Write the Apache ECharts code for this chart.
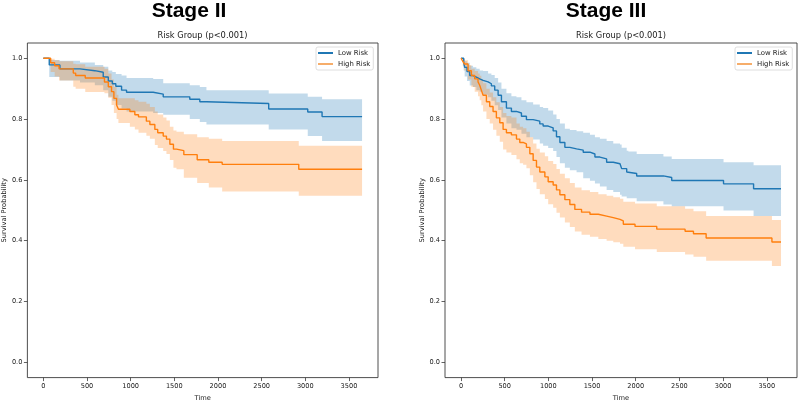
<!DOCTYPE html>
<html>
<head>
<meta charset="utf-8">
<script src="https://cdn.jsdelivr.net/npm/echarts@6/dist/echarts.min.js"></script>
<style>
html,body{margin:0;padding:0;background:#fff;}
#chart{width:798px;height:407px;}
</style>
</head>
<body>
<div id="chart"></div>
<script>
// ---------- tick labels ----------
const xTicks = [0, 500, 1000, 1500, 2000, 2500, 3000, 3500];
const yTicks = [0, 0.2, 0.4, 0.6, 0.8, 1.0];
const panelTitles = ['Stage II', 'Stage III'];
const subTitle = 'Risk Group (p<0.001)';
const groupNames = ['Low Risk', 'High Risk'];

// ---------- Stage II : Low Risk ----------
const s2LowTime  = [0, 68, 190, 420, 590, 686, 744, 790, 830, 896, 953, 1258, 1373, 1677, 1792, 1868, 2581, 3028, 3192, 3650];
const s2LowSurv  = [1, 0.978, 0.965, 0.959, 0.954, 0.938, 0.925, 0.916, 0.908, 0.895, 0.888, 0.882, 0.873, 0.865, 0.857, 0.851, 0.833, 0.823, 0.808, 0.808];
const s2LowLower = [1, 0.938, 0.927, 0.92, 0.911, 0.895, 0.873, 0.86, 0.846, 0.835, 0.825, 0.82, 0.814, 0.80, 0.79, 0.782, 0.766, 0.744, 0.728, 0.728];
const s2LowUpper = [1, 0.994, 0.992, 0.986, 0.978, 0.972, 0.96, 0.955, 0.948, 0.943, 0.935, 0.932, 0.918, 0.911, 0.905, 0.895, 0.884, 0.873, 0.865, 0.865];

// ---------- Stage II : High Risk ----------
const s2HighTime  = [0, 84, 130, 180, 343, 370, 480, 700, 744, 781, 808, 839, 860, 991, 1048, 1090, 1180, 1220, 1277, 1310, 1373, 1410, 1449, 1490, 1525, 1609, 1762, 1895, 2048, 2925, 3650];
const s2HighSurv  = [1, 0.985, 0.975, 0.965, 0.951, 0.943, 0.935, 0.922, 0.906, 0.890, 0.868, 0.846, 0.832, 0.825, 0.814, 0.807, 0.793, 0.782, 0.766, 0.755, 0.744, 0.734, 0.717, 0.701, 0.696, 0.683, 0.666, 0.658, 0.651, 0.635, 0.635];
const s2HighLower = [1, 0.955, 0.94, 0.927, 0.906, 0.90, 0.889, 0.885, 0.87, 0.846, 0.82, 0.80, 0.787, 0.775, 0.766, 0.755, 0.745, 0.735, 0.715, 0.705, 0.695, 0.685, 0.665, 0.64, 0.635, 0.607, 0.59, 0.575, 0.562, 0.548, 0.548];
const s2HighUpper = [1, 0.998, 0.993, 0.99, 0.982, 0.98, 0.972, 0.965, 0.95, 0.93, 0.905, 0.88, 0.868, 0.868, 0.862, 0.857, 0.85, 0.84, 0.825, 0.815, 0.805, 0.795, 0.775, 0.762, 0.758, 0.75, 0.74, 0.735, 0.728, 0.712, 0.712];

// ---------- Stage III : Low Risk ----------
const s3LowTime  = [0, 31, 42, 69, 100, 138, 176, 214, 253, 310, 348, 386, 425, 463, 520, 577, 635, 692, 749, 826, 902, 940, 998, 1055, 1093, 1132, 1189, 1246, 1323, 1399, 1476, 1533, 1590, 1667, 1743, 1820, 1839, 1897, 1916, 2011, 2317, 2412, 3005, 3349, 3663];
const s3LowSurv  = [1, 0.986, 0.970, 0.956, 0.943, 0.938, 0.932, 0.927, 0.922, 0.916, 0.909, 0.895, 0.878, 0.857, 0.836, 0.825, 0.820, 0.809, 0.798, 0.793, 0.784, 0.777, 0.771, 0.761, 0.742, 0.723, 0.707, 0.702, 0.698, 0.691, 0.685, 0.675, 0.669, 0.658, 0.653, 0.648, 0.637, 0.626, 0.621, 0.613, 0.608, 0.598, 0.587, 0.571, 0.571];
const s3LowLower = [1, 0.96, 0.94, 0.925, 0.91, 0.905, 0.895, 0.89, 0.88, 0.872, 0.86, 0.845, 0.83, 0.805, 0.785, 0.77, 0.765, 0.752, 0.74, 0.733, 0.72, 0.712, 0.705, 0.695, 0.675, 0.655, 0.64, 0.632, 0.625, 0.605, 0.597, 0.588, 0.578, 0.567, 0.56, 0.551, 0.545, 0.54, 0.54, 0.53, 0.519, 0.513, 0.499, 0.481, 0.481];
const s3LowUpper = [1, 0.997, 0.99, 0.985, 0.975, 0.97, 0.965, 0.96, 0.958, 0.95, 0.945, 0.935, 0.92, 0.90, 0.885, 0.875, 0.872, 0.862, 0.855, 0.848, 0.84, 0.836, 0.828, 0.815, 0.80, 0.785, 0.768, 0.764, 0.76, 0.755, 0.748, 0.74, 0.735, 0.728, 0.72, 0.716, 0.706, 0.696, 0.693, 0.685, 0.677, 0.669, 0.658, 0.648, 0.648];

// ---------- Stage III : High Risk ----------
const s3HighTime  = [0, 20, 42, 81, 119, 157, 195, 214, 233, 253, 291, 329, 367, 405, 444, 482, 520, 577, 635, 673, 711, 749, 788, 826, 864, 902, 960, 998, 1055, 1093, 1132, 1189, 1246, 1303, 1380, 1476, 1572, 1667, 1743, 1820, 1858, 1992, 2241, 2565, 2661, 2806, 3559, 3663];
const s3HighSurv  = [1, 0.99, 0.981, 0.959, 0.943, 0.932, 0.922, 0.911, 0.895, 0.878, 0.857, 0.841, 0.825, 0.804, 0.788, 0.766, 0.755, 0.748, 0.734, 0.723, 0.718, 0.707, 0.686, 0.664, 0.642, 0.626, 0.610, 0.594, 0.583, 0.567, 0.551, 0.535, 0.519, 0.503, 0.494, 0.487, 0.481, 0.476, 0.470, 0.465, 0.454, 0.447, 0.438, 0.431, 0.423, 0.409, 0.396, 0.396];
const s3HighLower = [1, 0.975, 0.96, 0.93, 0.905, 0.89, 0.875, 0.862, 0.845, 0.825, 0.80, 0.785, 0.765, 0.745, 0.725, 0.70, 0.69, 0.682, 0.668, 0.655, 0.65, 0.638, 0.615, 0.592, 0.57, 0.553, 0.537, 0.52, 0.508, 0.492, 0.476, 0.46, 0.445, 0.43, 0.42, 0.413, 0.406, 0.40, 0.395, 0.39, 0.38, 0.372, 0.363, 0.355, 0.347, 0.334, 0.317, 0.317];
const s3HighUpper = [1, 0.998, 0.993, 0.978, 0.965, 0.958, 0.95, 0.942, 0.93, 0.918, 0.90, 0.887, 0.872, 0.855, 0.84, 0.82, 0.81, 0.805, 0.785, 0.775, 0.77, 0.758, 0.74, 0.72, 0.702, 0.69, 0.678, 0.662, 0.652, 0.636, 0.62, 0.605, 0.59, 0.575, 0.566, 0.56, 0.553, 0.548, 0.543, 0.538, 0.528, 0.522, 0.513, 0.505, 0.497, 0.481, 0.468, 0.468];

// ---------- styling ----------
const BLUE = '#1f77b4';
const ORANGE = '#ff7f0e';
const TXT = '#1a1a1a';
const FRAME = '#3a3a3a';
const FONT = '"DejaVu Sans", sans-serif';

const grids = [
  { left: 27, top: 43, width: 351, height: 341 },
  { left: 445, top: 43, width: 352, height: 341 }
];
const xRanges = [[-182.5, 3832.5], [-183, 3846]];

function bandSeries(idx, color, t, lo, hi) {
  return {
    type: 'custom',
    xAxisIndex: idx, yAxisIndex: idx,
    silent: true, z: 1,
    data: t.map((v, i) => [v, lo[i], hi[i]]),
    renderItem: function (params, api) {
      if (params.dataIndex !== 0) return null;
      const n = t.length;
      const pts = [];
      for (let i = 0; i < n; i++) {
        pts.push(api.coord([t[i], hi[i]]));
        if (i < n - 1) pts.push(api.coord([t[i + 1], hi[i]]));
      }
      for (let i = n - 1; i >= 0; i--) {
        if (i < n - 1) pts.push(api.coord([t[i + 1], lo[i]]));
        pts.push(api.coord([t[i], lo[i]]));
      }
      return {
        type: 'polygon',
        shape: { points: pts },
        style: { fill: color, opacity: 0.27, stroke: null }
      };
    }
  };
}

function lineSeries(idx, name, color, t, s) {
  return {
    type: 'line', name: name,
    xAxisIndex: idx, yAxisIndex: idx,
    step: 'end', showSymbol: false, symbol: 'none',
    z: 2, silent: true,
    itemStyle: { color: color },
    lineStyle: { color: color, width: 1.4 },
    data: t.map((v, i) => [v, s[i]])
  };
}

const xAxes = [0, 1].map(i => ({
  type: 'value', gridIndex: i, position: 'bottom',
  min: xRanges[i][0], max: xRanges[i][1],
  name: 'Time', nameLocation: 'middle', nameGap: 14,
  nameTextStyle: { fontFamily: FONT, fontSize: 6.7, color: TXT },
  axisLine: { show: false, onZero: false },
  splitLine: { show: false },
  axisTick: { show: true, length: 3.5, inside: false, customValues: xTicks, lineStyle: { color: FRAME, width: 0.8 } },
  axisLabel: { customValues: xTicks, margin: 5.5, fontFamily: FONT, fontSize: 6.6, color: TXT, formatter: v => String(v) }
}));

const yAxes = [0, 1].map(i => ({
  type: 'value', gridIndex: i, position: 'left',
  min: -0.05, max: 1.05,
  name: 'Survival Probability', nameLocation: 'middle', nameGap: 19,
  nameTextStyle: { fontFamily: FONT, fontSize: 6.7, color: TXT },
  axisLine: { show: false, onZero: false },
  splitLine: { show: false },
  axisTick: { show: true, length: 3.5, inside: false, customValues: yTicks, lineStyle: { color: FRAME, width: 0.8 } },
  axisLabel: { customValues: yTicks, margin: 5, fontFamily: FONT, fontSize: 6.6, color: TXT, formatter: v => v.toFixed(1) }
}));

const legendLefts = [316, 735];
const legends = [0, 1].map(i => ({
  left: legendLefts[i], top: 47,
  orient: 'vertical',
  data: [
    { name: groupNames[0], itemStyle: { color: BLUE } },
    { name: groupNames[1], itemStyle: { color: '#f6ad6a' } }
  ],
  icon: 'rect', itemWidth: 15, itemHeight: 2, itemGap: 3,
  padding: [2, 3, 2, 2],
  backgroundColor: '#fff', borderColor: '#d5d5d5', borderWidth: 0.8, borderRadius: 2,
  textStyle: { fontFamily: FONT, fontSize: 6.9, color: TXT, lineHeight: 8 },
  selectedMode: false
}));

const titleCenters = [189, 606];
const subCenters = [202.5, 621];
const titles = [];
[0, 1].forEach(i => {
  titles.push({
    text: panelTitles[i], left: titleCenters[i], top: 0, textAlign: 'center', padding: 0,
    textStyle: { fontFamily: '"Liberation Sans", Arial, sans-serif', fontWeight: 'bold', fontSize: 21, color: '#000', lineHeight: 22 }
  });
  titles.push({
    text: subTitle, left: subCenters[i], top: 31, textAlign: 'center', padding: 0,
    textStyle: { fontFamily: FONT, fontWeight: 'normal', fontSize: 8.3, color: TXT, lineHeight: 10 }
  });
});

const option = {
  animation: false,
  backgroundColor: '#fff',
  title: titles,
  legend: legends,
  grid: grids.map(g => Object.assign({ show: true, borderColor: FRAME, borderWidth: 0.9, backgroundColor: '#fff', containLabel: false }, g)),
  xAxis: xAxes,
  yAxis: yAxes,
  series: [
    bandSeries(0, BLUE, s2LowTime, s2LowLower, s2LowUpper),
    bandSeries(0, ORANGE, s2HighTime, s2HighLower, s2HighUpper),
    lineSeries(0, groupNames[0], BLUE, s2LowTime, s2LowSurv),
    lineSeries(0, groupNames[1], ORANGE, s2HighTime, s2HighSurv),
    bandSeries(1, BLUE, s3LowTime, s3LowLower, s3LowUpper),
    bandSeries(1, ORANGE, s3HighTime, s3HighLower, s3HighUpper),
    lineSeries(1, groupNames[0], BLUE, s3LowTime, s3LowSurv),
    lineSeries(1, groupNames[1], ORANGE, s3HighTime, s3HighSurv)
  ]
};

const chart = echarts.init(document.getElementById('chart'), null, { renderer: 'canvas' });
chart.setOption(option);
</script>
</body>
</html>
